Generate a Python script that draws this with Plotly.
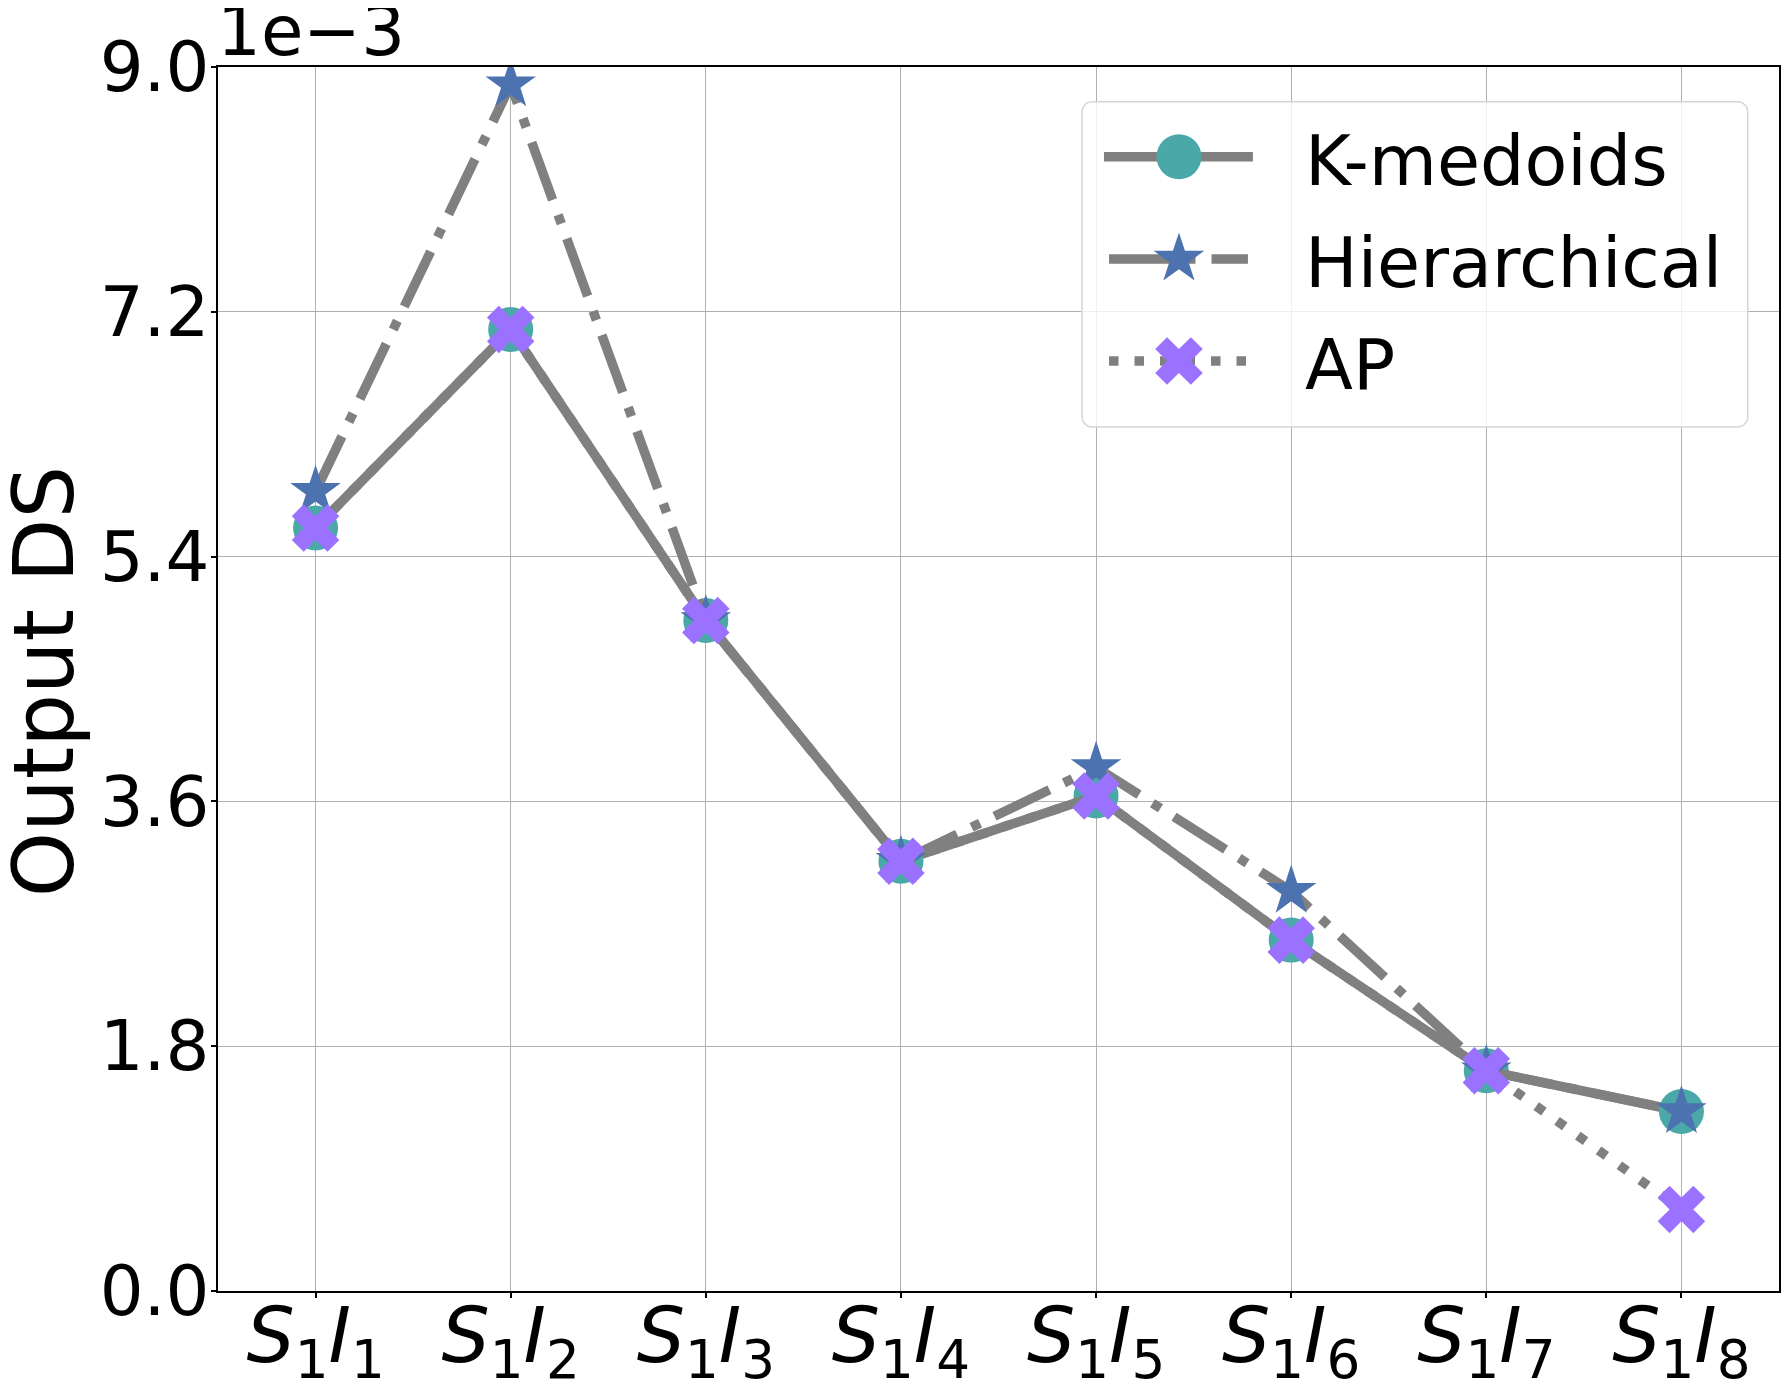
import numpy as np
import plotly.graph_objects as go

# values, in units of 1e-3
categories = ["S1I1", "S1I2", "S1I3", "S1I4", "S1I5", "S1I6", "S1I7", "S1I8"]
tick_labels = ["<i>S</i><sub>1</sub><i>I</i><sub>%d</sub>" % (i + 1) for i in range(8)]
k_medoids = [5.61, 7.07, 4.93, 3.16, 3.64, 2.58, 1.62, 1.32]
hierarchical = [5.88, 8.87, 4.93, 3.16, 3.85, 2.94, 1.62, 1.32]
ap = [5.61, 7.07, 4.93, 3.16, 3.64, 2.58, 1.62, 0.60]
y_ticks = [0.0, 1.8, 3.6, 5.4, 7.2, 9.0]
series_names = ["K-medoids", "Hierarchical", "AP"]

GRAY = "#808080"
LW = 9.5
DASHDOT = "61px,16px,9.5px,16px"
DOTTED = "9.5px,16px"
FONT = "DejaVu Sans"

styles = [
    dict(dash="solid", symbol="circle", size=45, color="#4BA8A8"),
    dict(dash=DASHDOT, symbol="star", size=38, color="#4C72B0"),
    dict(dash=DOTTED, symbol="x", size=42, color="#9B72FF"),
]

x = list(range(len(categories)))
fig = go.Figure()
for name, vals, st in zip(series_names, [k_medoids, hierarchical, ap], styles):
    fig.add_scatter(x=x, y=vals, name=name, mode="lines+markers",
                    line=dict(color=GRAY, width=LW, dash=st["dash"]),
                    marker=dict(symbol=st["symbol"], size=st["size"],
                                color=st["color"], line=dict(width=0)),
                    showlegend=False, xaxis="x", yaxis="y")

# hand-made legend on an overlay axis in [0, 1] so it matches the matplotlib look
def rounded_box(x0, x1, y0, y1, rx, ry, n=8):
    pts_x, pts_y = [], []
    corners = [(x1 - rx, y1 - ry, 0), (x0 + rx, y1 - ry, 90),
               (x0 + rx, y0 + ry, 180), (x1 - rx, y0 + ry, 270)]
    for cx, cy, a0 in corners:
        t = np.radians(np.linspace(a0, a0 + 90, n))
        pts_x += list(cx + rx * np.cos(t))
        pts_y += list(cy + ry * np.sin(t))
    return pts_x + pts_x[:1], pts_y + pts_y[:1]

bx, by = rounded_box(0.5535, 0.980, 0.7059, 0.9717, 0.0064, 0.0082)
fig.add_scatter(x=bx, y=by, mode="lines", fill="toself",
                fillcolor="rgba(255,255,255,0.8)",
                line=dict(color="#d6d6d6", width=1.5),
                showlegend=False, hoverinfo="skip", xaxis="x2", yaxis="y2")

rows_y = [0.9267, 0.8431, 0.7598]
line_ends = [(0.5676, 0.6630), (0.5708, 0.6598), (0.5708, 0.6598)]
for name, st, ry, (lx0, lx1) in zip(series_names, styles, rows_y, line_ends):
    fig.add_scatter(x=[lx0, lx1], y=[ry, ry], mode="lines",
                    line=dict(color=GRAY, width=LW, dash=st["dash"]),
                    showlegend=False, hoverinfo="skip", xaxis="x2", yaxis="y2")
    fig.add_scatter(x=[0.6156], y=[ry], mode="markers",
                    marker=dict(symbol=st["symbol"], size=st["size"],
                                color=st["color"], line=dict(width=0)),
                    showlegend=False, hoverinfo="skip", xaxis="x2", yaxis="y2")
    fig.add_annotation(text=name, xref="paper", yref="paper", x=0.695, y=ry,
                       xanchor="left", yanchor="middle", yshift=-4, showarrow=False,
                       font=dict(family=FONT, size=70, color="black"))

fig.add_annotation(text="Output DS", xref="paper", yref="paper", x=-0.1114, y=0.4975,
                   textangle=-90, xanchor="center", yanchor="middle", showarrow=False,
                   font=dict(family=FONT, size=83, color="black"))
fig.add_annotation(text="1e\u22123", xref="paper", yref="paper", x=0.0, y=1.0,
                   xanchor="left", yanchor="bottom", xshift=-3, yshift=-6, showarrow=False,
                   font=dict(family=FONT, size=69, color="black"))

axis_common = dict(showgrid=True, gridcolor="#b0b0b0", gridwidth=1.2,
                   showline=True, linecolor="black", linewidth=1.5, mirror=True,
                   ticks="outside", ticklen=5, tickwidth=1.5, tickcolor="black",
                   zeroline=False, automargin=False)
# the page puts the plot 8px in from the top-left corner, so the size is cut by 8
fig.update_layout(
    width=1782, height=1381,
    margin=dict(l=210, r=11, t=59, b=98),
    plot_bgcolor="white", paper_bgcolor="white",
    font=dict(family=FONT, color="black"),
    xaxis=dict(range=[-0.5, 7.5], tickvals=x, ticktext=tick_labels,
               ticklabelstandoff=-27,
               tickfont=dict(family=FONT, size=76, color="black"), **axis_common),
    yaxis=dict(range=[0, 9.0], tickvals=y_ticks,
               ticktext=["%.1f" % v for v in y_ticks], ticklabelstandoff=-12,
               tickfont=dict(family=FONT, size=69, color="black"), **axis_common),
    xaxis2=dict(overlaying="x", range=[0, 1], visible=False),
    yaxis2=dict(overlaying="y", range=[0, 1], visible=False),
)

fig.write_html("out.html")
